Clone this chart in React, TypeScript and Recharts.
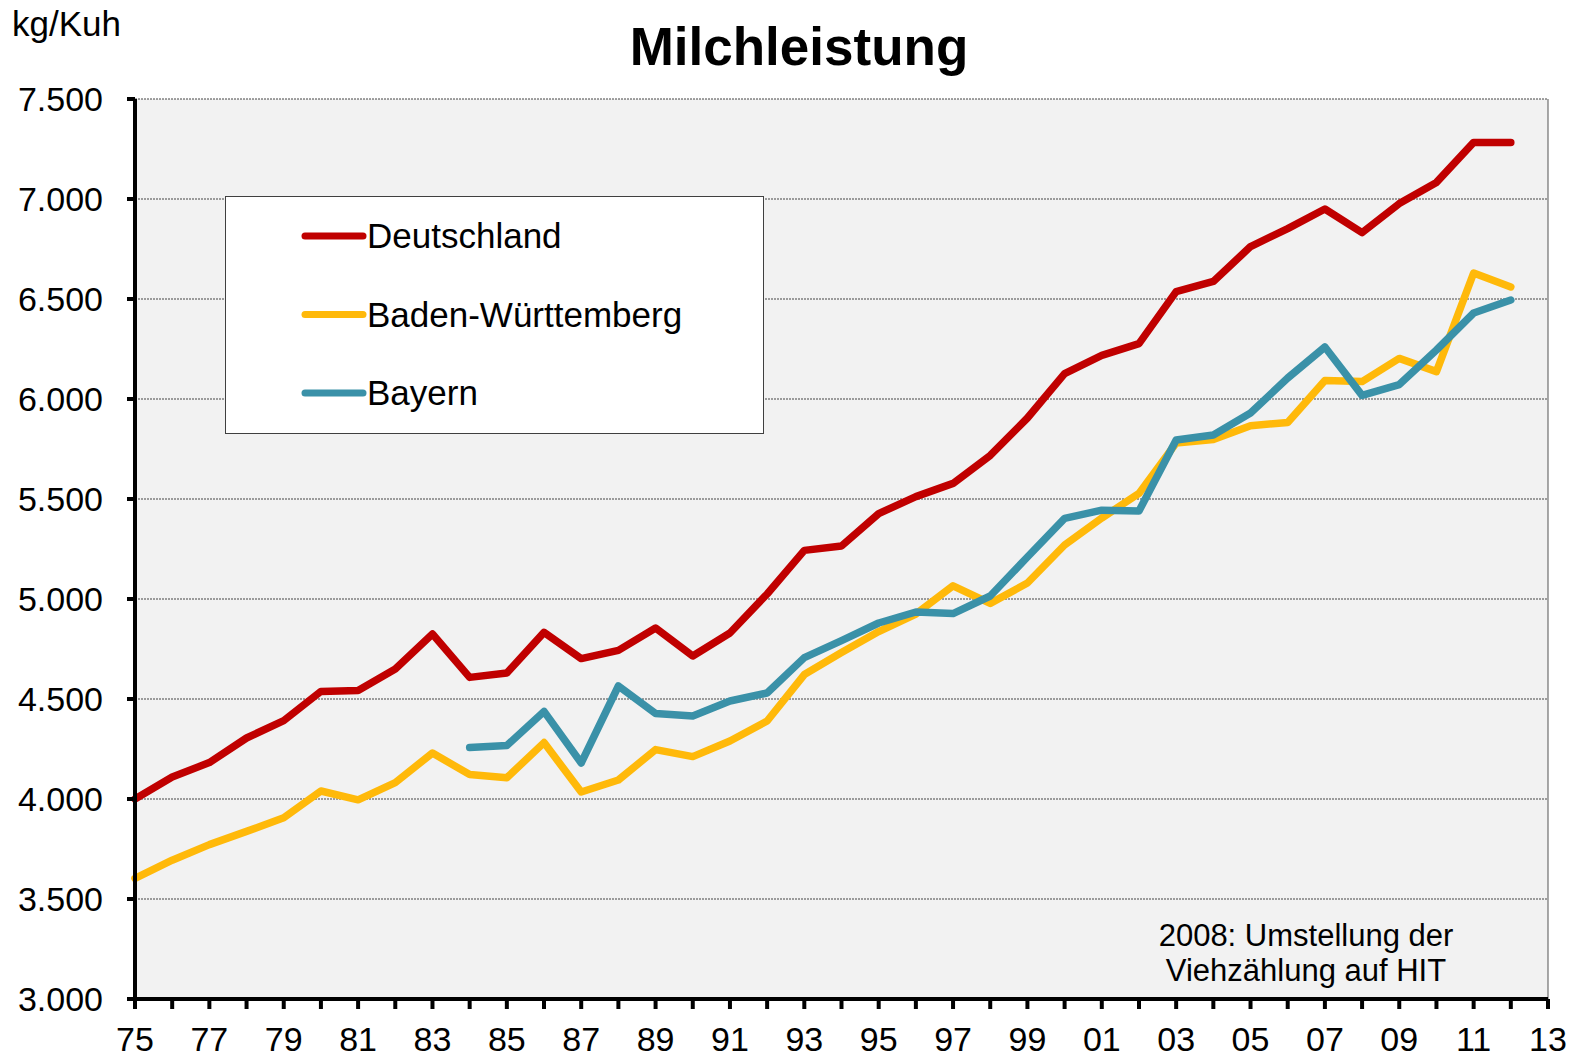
import React from 'react';
import { LineChart, Line, XAxis, YAxis, CartesianGrid, ReferenceLine, Legend } from 'recharts';

const years = [1975, 1976, 1977, 1978, 1979, 1980, 1981, 1982, 1983, 1984, 1985, 1986, 1987, 1988, 1989, 1990, 1991, 1992, 1993, 1994, 1995, 1996, 1997, 1998, 1999, 2000, 2001, 2002, 2003, 2004, 2005, 2006, 2007, 2008, 2009, 2010, 2011, 2012];
const deutschland = [4000, 4110, 4182, 4305, 4392, 4538, 4542, 4650, 4825, 4608, 4630, 4833, 4702, 4743, 4855, 4715, 4830, 5025, 5243, 5265, 5427, 5512, 5578, 5718, 5905, 6127, 6218, 6277, 6537, 6588, 6762, 6852, 6950, 6832, 6977, 7083, 7283, 7283];
const badenWuerttemberg = [3603, 3694, 3772, 3838, 3906, 4040, 3996, 4082, 4230, 4122, 4106, 4282, 4035, 4095, 4247, 4212, 4290, 4390, 4622, 4732, 4837, 4925, 5066, 4978, 5080, 5270, 5405, 5528, 5780, 5797, 5866, 5883, 6093, 6087, 6203, 6137, 6630, 6560];
const bayern = [null, null, null, null, null, null, null, null, null, 4257, 4267, 4438, 4180, 4565, 4428, 4415, 4490, 4530, 4707, 4792, 4880, 4935, 4927, 5015, 5210, 5403, 5444, 5440, 5795, 5820, 5930, 6105, 6260, 6018, 6072, 6245, 6430, 6495];

const xTicks = [1975, 1976, 1977, 1978, 1979, 1980, 1981, 1982, 1983, 1984, 1985, 1986, 1987, 1988, 1989, 1990, 1991, 1992, 1993, 1994, 1995, 1996, 1997, 1998, 1999, 2000, 2001, 2002, 2003, 2004, 2005, 2006, 2007, 2008, 2009, 2010, 2011, 2012, 2013];
const yTicks = [3000, 3500, 4000, 4500, 5000, 5500, 6000, 6500, 7000, 7500];

const seriesNames = ['Deutschland', 'Baden-Württemberg', 'Bayern'];
const colors = ['#C00000', '#FFB90A', '#3A91A8'];

const data = years.map((y, i) => ({
  year: y,
  de: deutschland[i],
  bw: badenWuerttemberg[i],
  by: bayern[i],
}));

const FONT = '"Liberation Sans", Arial, sans-serif';

const fmtY = (v: number) => `${Math.floor(v / 1000)}.${String(v % 1000).padStart(3, '0')}`;
const fmtX = (v: number) => (v % 2 === 1 ? String(v % 100).padStart(2, '0') : '');

const LegendBox = (props: any) => {
  const payload = [...(props.payload || [])].sort(
    (a: any, b: any) => seriesNames.indexOf(a.value) - seriesNames.indexOf(b.value)
  );
  return (
    <svg width={540} height={239} style={{ display: 'block' }}>
      <rect x={0.5} y={0.5} width={538} height={237} fill="#FFFFFF" stroke="#404040" strokeWidth={1} />
      {payload.map((p: any, i: number) => {
        const cy = 40 + i * 78.5;
        return (
          <g key={i}>
            <line x1={80} x2={138} y1={cy} y2={cy} stroke={p.color} strokeWidth={7} strokeLinecap="round" />
            <text x={142} y={cy + 12} fontFamily={FONT} fontSize={35} fill="#000">{p.value}</text>
          </g>
        );
      })}
    </svg>
  );
};

export default function App() {
  return (
    <div style={{ position: 'absolute', left: 0, top: 0, width: 1576, height: 1058, background: '#FFFFFF' }}>
      <LineChart width={1576} height={1058} data={data} margin={{ top: 99, right: 28, left: 0, bottom: 0 }}>
        <CartesianGrid horizontal vertical={false} stroke="#444" strokeDasharray="2 1" strokeWidth={1} fill="#F2F2F2" />
        <XAxis
          dataKey="year"
          type="number"
          domain={[1975, 2013]}
          ticks={xTicks}
          interval={0}
          tickFormatter={fmtX}
          height={59}
          axisLine={{ stroke: '#000', strokeWidth: 4 }}
          tickLine={{ stroke: '#000', strokeWidth: 4 }}
          tickSize={10}
          tickMargin={18}
          tick={{ fill: '#000', fontSize: 34, fontFamily: FONT }}
        />
        <YAxis
          type="number"
          domain={[3000, 7500]}
          ticks={yTicks}
          interval={0}
          tickFormatter={fmtY}
          width={135}
          axisLine={{ stroke: '#000', strokeWidth: 4 }}
          tickLine={{ stroke: '#000', strokeWidth: 4 }}
          tickSize={8}
          tickMargin={24}
          tick={{ fill: '#000', fontSize: 34, fontFamily: FONT }}
        />
        <ReferenceLine x={2013} stroke="#555" strokeWidth={1} />
        <Legend
          layout="vertical"
          align="center"
          verticalAlign="middle"
          content={<LegendBox />}
          wrapperStyle={{ position: 'absolute', left: 225, top: 196, width: 540, height: 239 }}
        />
        <Line dataKey="de" name={seriesNames[0]} stroke={colors[0]} strokeWidth={7.5} dot={false} isAnimationActive={false} strokeLinecap="round" strokeLinejoin="round" />
        <Line dataKey="bw" name={seriesNames[1]} stroke={colors[1]} strokeWidth={7.5} dot={false} isAnimationActive={false} strokeLinecap="round" strokeLinejoin="round" />
        <Line dataKey="by" name={seriesNames[2]} stroke={colors[2]} strokeWidth={7.5} dot={false} isAnimationActive={false} strokeLinecap="round" strokeLinejoin="round" />
      </LineChart>
      <svg width={1576} height={1058} style={{ position: 'absolute', left: 0, top: 0, pointerEvents: 'none' }}>
        <text x={12} y={36} fontFamily={FONT} fontSize={35} fill="#000">kg/Kuh</text>
        <text x={799} y={65} textAnchor="middle" fontFamily={FONT} fontSize={53} fontWeight="bold" fill="#000">Milchleistung</text>
        <text x={1306} y={946} textAnchor="middle" fontFamily={FONT} fontSize={31} fill="#000">2008: Umstellung der</text>
        <text x={1306} y={981} textAnchor="middle" fontFamily={FONT} fontSize={31} fill="#000">Viehzählung auf HIT</text>
      </svg>
    </div>
  );
}
